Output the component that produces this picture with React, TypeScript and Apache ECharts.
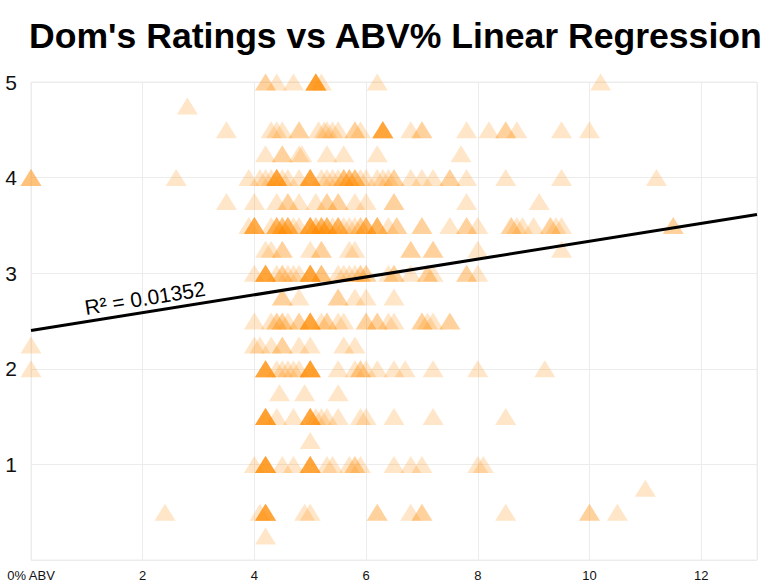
import React, { useEffect, useRef } from "react";
import * as echarts from "echarts";

// ABV values per rating level
const r5_00 = [4.2, 4.2, 4.4, 4.7, 5.1, 5.1, 5.1, 5.1, 5.1, 5.1, 5.1, 5.2, 6.2, 10.2];
const r4_75 = [2.8];
const r4_50 = [3.5, 4.3, 4.4, 4.5, 4.8, 4.8, 5.15, 5.25, 5.3, 5.4, 5.5, 5.8, 5.8, 5.9, 6.3, 6.3, 6.3, 6.3, 6.3, 6.3, 6.8, 7.0, 7.0, 7.8, 8.2, 8.5, 8.5, 8.7, 9.5, 10.0];
const r4_25 = [4.2, 4.5, 4.5, 4.8, 4.85, 5.3, 5.6, 6.2, 7.7];
const r4_00 = [0, 0, 0, 2.6, 3.9, 4.1, 4.2, 4.3, 4.4, 4.4, 4.4, 4.4, 4.4, 4.4, 4.5, 4.6, 4.8, 5.0, 5.0, 5.0, 5.0, 5.0, 5.0, 5.2, 5.3, 5.4, 5.5, 5.6, 5.6, 5.6, 5.7, 5.7, 5.7, 5.8, 5.8, 5.8, 5.9, 6.0, 6.2, 6.3, 6.4, 6.5, 6.5, 6.8, 7.0, 7.2, 7.5, 7.5, 7.8, 8.5, 9.5, 11.2];
const r3_75 = [3.5, 4.0, 4.4, 4.6, 4.6, 4.8, 5.1, 5.3, 5.3, 5.5, 5.5, 5.8, 6.0, 6.5, 6.5, 7.8, 9.1];
const r3_50 = [3.9, 4.0, 4.0, 4.0, 4.0, 4.0, 4.3, 4.4, 4.4, 4.4, 4.4, 4.5, 4.5, 4.5, 4.6, 4.6, 4.6, 4.6, 4.7, 4.8, 5.0, 5.0, 5.0, 5.0, 5.0, 5.0, 5.1, 5.1, 5.2, 5.2, 5.2, 5.2, 5.3, 5.3, 5.3, 5.3, 5.4, 5.5, 5.5, 5.5, 5.5, 5.6, 5.7, 5.8, 5.9, 5.9, 6.0, 6.0, 6.0, 6.0, 6.2, 6.2, 6.2, 6.2, 6.4, 6.55, 6.55, 7.0, 7.0, 7.5, 7.8, 7.8, 8.0, 8.6, 8.6, 8.7, 8.8, 9.0, 9.3, 9.3, 9.4, 9.5, 11.5, 11.5];
const r3_25 = [4.2, 4.3, 4.5, 4.5, 5.0, 5.2, 5.2, 5.7, 5.8, 6.8, 6.8, 7.2, 7.2, 8.0, 9.5];
const r3_00 = [4.0, 4.2, 4.2, 4.2, 4.2, 4.2, 4.2, 4.4, 4.5, 4.5, 4.6, 4.7, 4.8, 5.0, 5.0, 5.0, 5.0, 5.0, 5.0, 5.2, 5.2, 5.2, 5.5, 5.6, 5.7, 5.8, 5.9, 5.9, 6.0, 6.0, 6.4, 6.5, 6.5, 6.8, 7.1, 7.1, 7.2, 7.8, 7.8, 8.0];
const r2_75 = [4.5, 4.5, 4.8, 5.5, 5.5, 5.8, 6.0, 6.5];
const r2_50 = [4.0, 4.3, 4.4, 4.4, 4.5, 4.5, 4.6, 4.8, 4.8, 5.0, 5.0, 5.0, 5.0, 5.0, 5.0, 5.2, 5.3, 5.3, 5.5, 5.6, 6.0, 6.0, 6.2, 6.2, 6.4, 6.5, 7.0, 7.0, 7.1, 7.2, 7.5, 7.5];
const r2_25 = [0, 4.0, 4.1, 4.3, 4.5, 4.5, 4.8, 5.0, 5.6, 5.8];
const r2_00 = [0, 4.2, 4.2, 4.2, 4.2, 4.2, 4.2, 4.4, 4.5, 4.6, 4.7, 4.8, 5.0, 5.0, 5.0, 5.0, 5.0, 5.0, 5.0, 5.5, 5.8, 5.9, 5.9, 6.0, 6.2, 6.5, 6.7, 7.2, 8.0, 9.2];
const r1_75 = [4.45, 4.9, 5.5];
const r1_50 = [4.2, 4.2, 4.2, 4.2, 4.2, 4.2, 4.2, 4.4, 4.7, 5.0, 5.0, 5.0, 5.0, 5.0, 5.0, 5.1, 5.2, 5.3, 5.5, 5.9, 6.0, 6.5, 7.2, 8.5];
const r1_25 = [5.0];
const r1_00 = [4.0, 4.2, 4.2, 4.2, 4.2, 4.2, 4.2, 4.2, 4.5, 4.7, 5.0, 5.0, 5.0, 5.0, 5.0, 5.0, 5.3, 5.4, 5.7, 5.8, 5.8, 5.9, 6.5, 6.8, 7.0, 8.0, 8.1];
const r0_75 = [11.0];
const r0_50 = [2.4, 4.1, 4.2, 4.2, 4.2, 4.2, 4.2, 4.2, 4.9, 5.0, 6.2, 6.2, 6.8, 7.0, 7.0, 8.5, 10.0, 10.0, 10.5];
const r0_25 = [4.2];

const ratingRows: [number, number[]][] = [
  [5, r5_00], [4.75, r4_75], [4.5, r4_50], [4.25, r4_25], [4, r4_00],
  [3.75, r3_75], [3.5, r3_50], [3.25, r3_25], [3, r3_00], [2.75, r2_75],
  [2.5, r2_50], [2.25, r2_25], [2, r2_00], [1.75, r1_75], [1.5, r1_50],
  [1.25, r1_25], [1, r1_00], [0.75, r0_75], [0.5, r0_50], [0.25, r0_25],
];

// Regression line endpoints
const regX = [0, 13];
const regY = [2.4, 3.615];
const r2Label = "R² = 0.01352";

const xTicks = [0, 2, 4, 6, 8, 10, 12];

export default function App() {
  const ref = useRef<HTMLDivElement>(null);
  useEffect(() => {
    if (!ref.current) return;
    const chart = echarts.init(ref.current, null, { renderer: "svg" });
    const points: number[][] = [];
    ratingRows.forEach(([rating, abvs]) => abvs.forEach((a) => points.push([a, rating])));
    const font = "'Liberation Sans', Arial, sans-serif";
    chart.setOption({
      animation: false,
      backgroundColor: "#ffffff",
      title: {
        text: "Dom's Ratings vs ABV% Linear Regression",
        left: 24,
        top: 13,
        textStyle: { fontFamily: font, fontWeight: "bold", fontSize: 35.6, color: "#000" },
      },
      grid: {
        left: 31, right: 11, top: 82, bottom: 27,
        show: true, borderColor: "#ececec", borderWidth: 1,
      },
      xAxis: {
        type: "value", min: 0, max: 13, interval: 2,
        axisLine: { show: false }, axisTick: { show: false },
        splitLine: { show: true, lineStyle: { color: "#ececec", width: 1 } },
        axisLabel: {
          showMaxLabel: false, margin: 9,
          fontFamily: font, fontSize: 13, color: "#111",
          formatter: (v: number) => (v === 0 ? "0% ABV" : xTicks.includes(v) ? String(v) : ""),
        },
      },
      yAxis: {
        type: "value", min: 0, max: 5, interval: 1,
        axisLine: { show: false }, axisTick: { show: false },
        splitLine: { show: true, lineStyle: { color: "#ececec", width: 1 } },
        axisLabel: {
          margin: 14, fontFamily: font, fontSize: 21, color: "#111",
          formatter: (v: number) => (v === 0 ? "" : String(v)),
        },
      },
      series: [
        {
          type: "scatter",
          symbol: "triangle",
          symbolSize: [21, 17],
          data: points,
          itemStyle: { color: "rgba(255,140,0,0.27)" },
          z: 2,
        },
        {
          type: "line",
          data: regX.map((x, i) => [x, regY[i]]),
          symbol: "none",
          lineStyle: { color: "#000", width: 3 },
          z: 3,
        },
      ],
      graphic: [
        {
          type: "text",
          x: 145, y: 298,
          rotation: 0.159,
          style: {
            text: r2Label, fontFamily: font, fontSize: 21, fill: "#000",
            align: "center", verticalAlign: "middle",
          },
          z: 10,
        },
      ],
    });
    return () => chart.dispose();
  }, []);
  return (
    <div
      ref={ref}
      style={{ position: "fixed", left: 0, top: 0, width: 768, height: 587 }}
    />
  );
}
